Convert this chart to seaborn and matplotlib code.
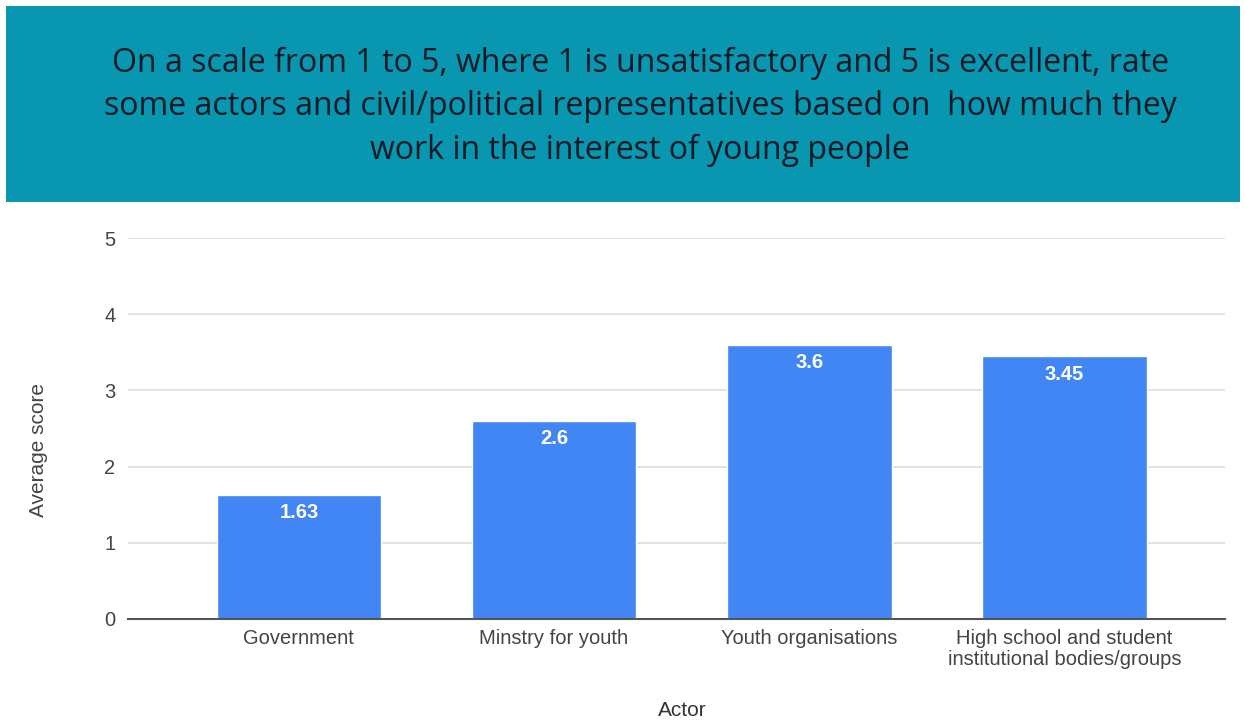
import matplotlib
matplotlib.use("Agg")
import matplotlib.pyplot as plt
from matplotlib.patches import Rectangle
import seaborn as sns
import pandas as pd

actors = ["Government", "Minstry for youth", "Youth organisations",
          "High school and student\ninstitutional bodies/groups"]
scores = [1.63, 2.6, 3.6, 3.45]
score_labels = ["1.63", "2.6", "3.6", "3.45"]
y_ticks = [0, 1, 2, 3, 4, 5]

title = ("On a scale from 1 to 5, where 1 is unsatisfactory and 5 is excellent, rate\n"
         "some actors and civil/political representatives based on  how much they\n"
         "work in the interest of young people")

sns.set_theme(style="white")
plt.rcParams["font.family"] = ["Liberation Sans", "DejaVu Sans"]

df = pd.DataFrame({"Actor": actors, "Average score": scores})

fig = plt.figure(figsize=(12.44, 7.22), dpi=100)
fig.patch.set_facecolor("white")

# teal header band with the question
fig.patches.append(Rectangle((6 / 1244, 1 - 202 / 722), 1234 / 1244, 196 / 722,
                             transform=fig.transFigure, facecolor="#0896B0",
                             edgecolor="none", zorder=0))
fig.text(640 / 1244, 1 - 107 / 722, title, ha="center", va="center",
         fontsize=23, color="#0B1A24", family=["Open Sans", "DejaVu Sans"],
         linespacing=1.42, multialignment="center")

ax = fig.add_axes([128 / 1244, 1 - 619 / 722, 1097 / 1244, 381 / 722])
sns.barplot(data=df, x="Actor", y="Average score", color="#4285F4",
            width=0.646, saturation=1, ax=ax, zorder=3)

ax.set_xlim(-0.67, 3.63)
ax.set_ylim(0, 5)
ax.set_yticks(y_ticks)
ax.yaxis.grid(True, color="#DDDDDD", linewidth=1.2, zorder=0)
ax.xaxis.grid(False)
for side in ["top", "right", "left"]:
    ax.spines[side].set_visible(False)
ax.spines["bottom"].set_color("#555555")
ax.spines["bottom"].set_linewidth(1.5)
ax.spines["bottom"].set_zorder(4)
ax.tick_params(axis="both", length=0, labelsize=14.5, labelcolor="#444444")
ax.tick_params(axis="y", pad=9)
ax.tick_params(axis="x", pad=7)
for lab in ax.get_xticklabels():
    lab.set_linespacing(1.15)

ax.set_xlabel("Actor", fontsize=15, color="#333333")
ax.set_ylabel("Average score", fontsize=15, color="#444444")
ax.xaxis.set_label_coords((682 - 128) / 1097, -(711 - 619) / 381)
ax.yaxis.set_label_coords(-(128 - 38) / 1097, (619 - 450) / 381)
ax.xaxis.label.set_va("center")
ax.yaxis.label.set_va("center")

for i, (v, lab) in enumerate(zip(scores, score_labels)):
    ax.annotate(lab, xy=(i, v), xytext=(0, -13), textcoords="offset points",
                ha="center", va="center", color="white", fontsize=14.5,
                fontweight="bold", zorder=5)

fig.savefig("out.png", dpi=100, facecolor="white")
